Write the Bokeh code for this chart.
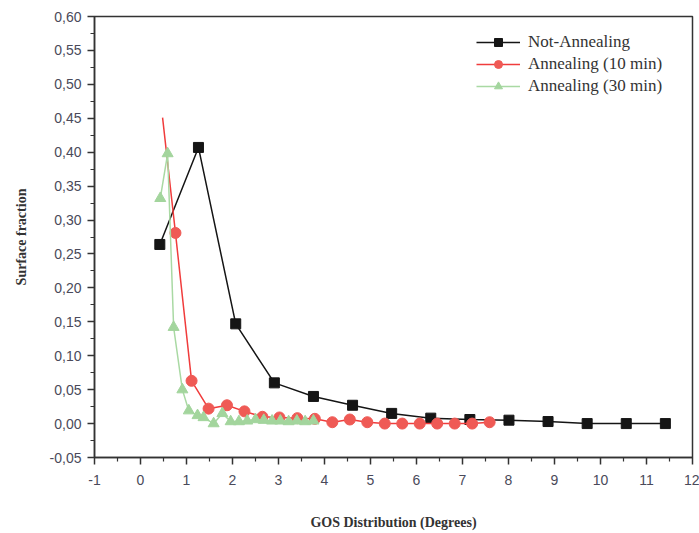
from bokeh.plotting import figure
from bokeh.models import Range1d, Legend, LegendItem, CustomJSTickFormatter, FixedTicker
from bokeh.embed import file_html
from bokeh.resources import INLINE

# Not-Annealing
x_na = [0.42, 1.26, 2.07, 2.91, 3.76, 4.61, 5.46, 6.31, 7.16, 8.01, 8.86, 9.71, 10.56, 11.41]
y_na = [0.264, 0.407, 0.147, 0.060, 0.040, 0.027, 0.015, 0.008, 0.006, 0.005, 0.003, 0.000, 0.000, 0.000]

# Annealing (10 min) - first point is line only
x_a10 = [0.48, 0.76, 1.11, 1.48, 1.88, 2.26, 2.65, 3.02, 3.41, 3.79, 4.17, 4.55, 4.93, 5.31, 5.69, 6.07, 6.45, 6.83, 7.21, 7.59]
y_a10 = [0.451, 0.281, 0.063, 0.022, 0.027, 0.018, 0.010, 0.009, 0.008, 0.007, 0.002, 0.006, 0.002, 0.000, 0.000, 0.000, 0.000, 0.000, 0.000, 0.002]

# Annealing (30 min)
x_a30 = [0.43, 0.59, 0.72, 0.91, 1.05, 1.24, 1.37, 1.59, 1.78, 1.96, 2.14, 2.32, 2.50, 2.68, 2.86, 3.04, 3.22, 3.40, 3.58, 3.76]
y_a30 = [0.332, 0.398, 0.142, 0.050, 0.019, 0.012, 0.009, 0.000, 0.015, 0.003, 0.003, 0.004, 0.006, 0.005, 0.004, 0.004, 0.003, 0.004, 0.003, 0.004]

x_ticks = list(range(-1, 13))
y_ticks = [-0.05, 0.0, 0.05, 0.10, 0.15, 0.20, 0.25, 0.30, 0.35, 0.40, 0.45, 0.50, 0.55, 0.60]

BLACK = "#151515"
RED_LINE = "#f03c3c"
RED_PT = "#ef5a55"
GREEN_LINE = "#a9d9a3"
GREEN_PT = "#a3d59d"

p = figure(width=699, height=533, output_backend="svg", toolbar_location=None,
           x_range=Range1d(-1, 12), y_range=Range1d(-0.05, 0.60),
           min_border_left=94, min_border_right=7, min_border_top=16, min_border_bottom=76)
p.grid.visible = False
p.background_fill_color = "white"
p.border_fill_color = "white"
p.outline_line_color = "#333333"
p.outline_line_width = 1.5

for ax in (p.xaxis[0], p.yaxis[0]):
    ax.axis_line_color = "#333333"
    ax.axis_line_width = 1.5
    ax.major_tick_line_color = "#333333"
    ax.minor_tick_line_color = "#333333"
    ax.major_tick_line_width = 1.5
    ax.minor_tick_line_width = 1.2
    ax.major_tick_out = 7
    ax.major_tick_in = 0
    ax.minor_tick_out = 4
    ax.minor_tick_in = 0
    ax.major_label_text_font = "Liberation Sans"
    ax.major_label_text_font_size = "14px"
    ax.major_label_text_color = "#4a4a5a"
    ax.axis_label_text_font = "Liberation Serif"
    ax.axis_label_text_font_style = "bold"
    ax.axis_label_text_font_size = "14px"
    ax.axis_label_text_color = "#333333"

p.xaxis[0].ticker = FixedTicker(ticks=x_ticks, minor_ticks=[t + 0.5 for t in x_ticks[:-1]])
p.yaxis[0].ticker = FixedTicker(ticks=y_ticks, minor_ticks=[round(t + 0.025, 3) for t in y_ticks[:-1]])
p.xaxis[0].formatter = CustomJSTickFormatter(code="return Math.round(tick).toString();")
p.yaxis[0].formatter = CustomJSTickFormatter(code="return tick.toFixed(2).replace('.', ',');")
p.xaxis[0].major_label_standoff = 10
p.yaxis[0].major_label_standoff = 6
p.xaxis[0].axis_label = "GOS Distribution (Degrees)"
p.yaxis[0].axis_label = "Surface fraction"
p.xaxis[0].axis_label_standoff = 27
p.yaxis[0].axis_label_standoff = 18

l1 = p.line(x_na, y_na, line_color=BLACK, line_width=1.5)
s1 = p.scatter(x_na, y_na, marker="square", size=10, fill_color=BLACK, line_color=BLACK)

l2 = p.line(x_a10, y_a10, line_color=RED_LINE, line_width=1.5)
s2 = p.scatter(x_a10[1:], y_a10[1:], marker="circle", size=11, fill_color=RED_PT, line_color=RED_PT)

l3 = p.line(x_a30, y_a30, line_color=GREEN_LINE, line_width=1.5)
s3 = p.scatter(x_a30, y_a30, marker="triangle", size=11, fill_color=GREEN_PT, line_color=GREEN_PT)

legend = Legend(items=[
    LegendItem(label="Not-Annealing", renderers=[l1, s1]),
    LegendItem(label="Annealing (10 min)", renderers=[l2, s2]),
    LegendItem(label="Annealing (30 min)", renderers=[l3, s3]),
], location=(382, 361))
legend.border_line_color = None
legend.background_fill_alpha = 0
legend.label_text_font = "Liberation Serif"
legend.label_text_font_size = "17px"
legend.label_text_color = "#333333"
legend.glyph_width = 44
legend.glyph_height = 20
legend.label_height = 20
legend.spacing = 2
legend.label_standoff = 8
legend.padding = 4
p.add_layout(legend, "center")

open("out.html", "w").write(file_html(p, INLINE))
